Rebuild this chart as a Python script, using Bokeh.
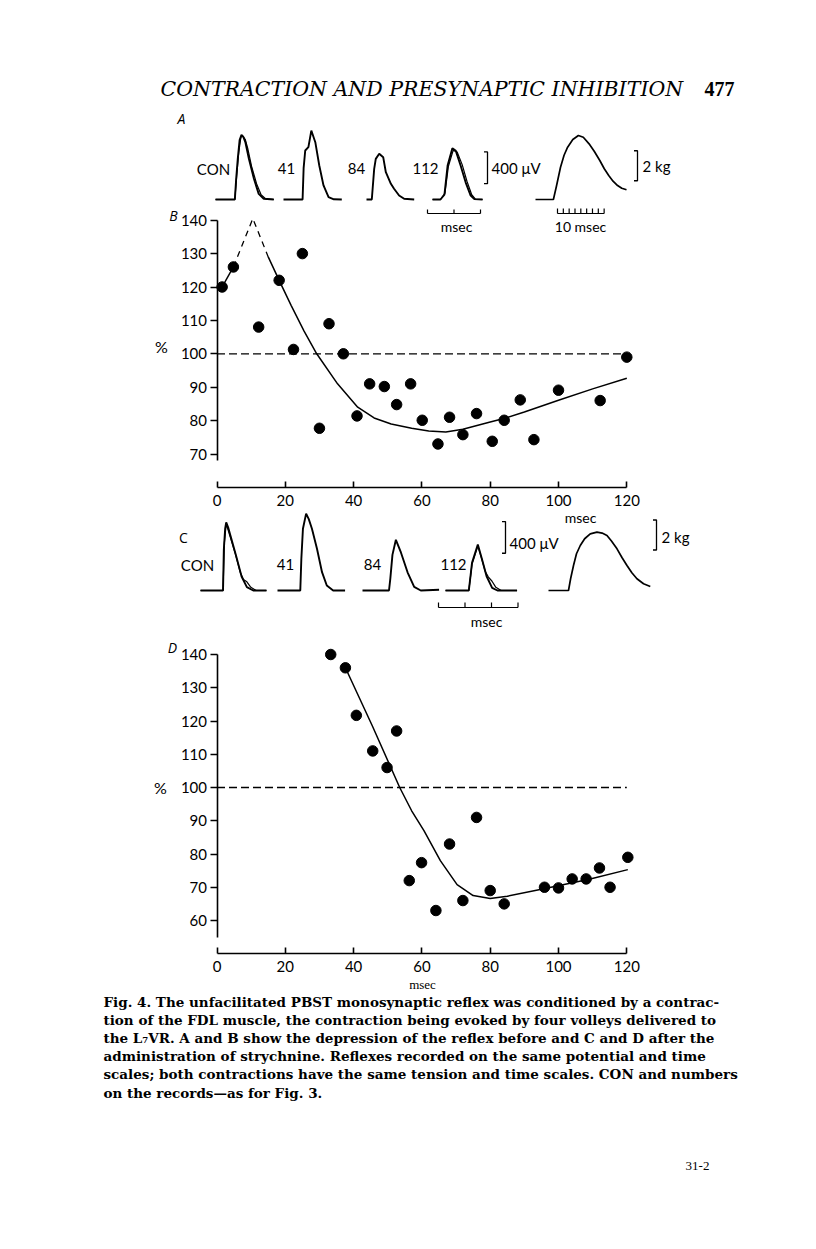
from bokeh.plotting import figure
from bokeh.models import Range1d, LinearAxis, FixedTicker, Label
from bokeh.embed import file_html
from bokeh.resources import INLINE

# ---------------- data ----------------
# Panel B: reflex size (% of control) vs interval (msec), before strychnine
B_x = [1.5, 4.8, 12.2, 18.2, 22.4, 25.0, 30.0, 32.8, 37.0, 41.0, 44.7, 49.0, 52.6,
       56.7, 60.1, 64.7, 68.1, 72.0, 76.0, 80.6, 84.1, 88.8, 92.8, 100.0, 112.2, 120.0]
B_y = [120, 126, 108, 122, 101.3, 130, 77.7, 109, 100, 81.4, 91, 90.2, 84.8,
       91, 80.1, 73, 81, 75.8, 82.1, 73.8, 80.1, 86.2, 74.3, 89.1, 86, 99]
B_fit0_x = [1.5, 4.8]
B_fit0_y = [120, 126]
B_peak_x = [4.8, 10.5, 15.0]
B_peak_y = [126, 140.5, 129]
B_fit_x = [15.0, 18.2, 21.7, 25.5, 29.2, 35.3, 41.2, 46, 51, 57, 62, 67, 72, 80, 84, 90, 100, 110, 120]
B_fit_y = [129, 122, 114.5, 106.8, 100, 91, 84, 80.8, 79, 77.7, 76.9, 76.6, 77.4, 79.6, 80.6, 82.6, 86.1, 89.5, 92.7]

# Panel D: after strychnine
D_x = [33.3, 37.6, 40.8, 45.6, 49.8, 52.6, 56.3, 59.9, 64.1, 68.1, 72.0, 76.0, 80.0,
       84.1, 95.9, 100.0, 104.0, 108.1, 112.0, 115.1, 120.3]
D_y = [140, 136, 121.7, 111, 106, 117, 72, 77.4, 63, 83, 66, 91, 69,
       65, 70, 69.8, 72.5, 72.5, 75.8, 70, 79]
D_fit_x = [37.6, 45.5, 53.5, 57, 60.6, 65.4, 70.3, 75, 80, 85, 95, 109, 120.3]
D_fit_y = [136, 118.5, 100, 93, 87, 78, 70.8, 67.5, 66.6, 67.3, 69.4, 72.4, 75.3]

X_TICKS = [0, 20, 40, 60, 80, 100, 120]
B_Y_TICKS = [70, 80, 90, 100, 110, 120, 130, 140]
D_Y_TICKS = [60, 70, 80, 90, 100, 110, 120, 130, 140]

# Reflex records (time msec from sweep start, amplitude microvolts)
A_CON_t = [0, 0.73, 0.78, 0.84, 0.91, 0.98, 1.05, 1.13, 1.26, 1.45, 1.63, 1.82, 2.2]
A_CON_v = [0, 0, 260, 514, 750, 816, 790, 720, 514, 262, 71, 9, 0]
A_CON2_t = [0, 0.73, 0.8, 0.88, 0.96, 1.03, 1.12, 1.22, 1.36, 1.55, 1.72, 1.9, 2.2]
A_CON2_v = [0, 0, 300, 600, 790, 800, 760, 640, 420, 200, 60, 8, 0]
A_41_t = [0, 0.72, 0.76, 0.82, 0.94, 1.05, 1.2, 1.35, 1.51, 1.7, 1.9, 2.2]
A_41_v = [0, 0, 400, 618, 660, 870, 723, 429, 177, 29, 3, 0]
A_84_t = [0, 0.2, 0.29, 0.35, 0.48, 0.63, 0.73, 0.92, 1.04, 1.23, 1.42, 1.8]
A_84_v = [0, 0, 387, 513, 577, 534, 344, 198, 135, 50, 9, 0]
A_112_t = [0, 0.3, 0.45, 0.57, 0.75, 0.88, 1.06, 1.25, 1.44, 1.58, 1.89]
A_112_v = [0, 0, 60, 429, 647, 614, 429, 217, 50, 5, 0]
A_1122_t = [0, 0.3, 0.47, 0.6, 0.78, 0.93, 1.12, 1.3, 1.48, 1.62, 1.89]
A_1122_v = [0, 0, 80, 420, 620, 600, 440, 230, 60, 6, 0]

C_CON_t = [0, 0.85, 0.88, 0.93, 0.97, 1.05, 1.14, 1.35, 1.55, 1.75, 1.99, 2.49]
C_CON_v = [0, 0, 514, 780, 860, 790, 681, 429, 177, 43, 0, 0]
C_CON2_t = [0, 0.85, 0.9, 0.97, 1.08, 1.3, 1.5, 1.62, 1.75, 1.9, 2.1, 2.49]
C_CON2_v = [0, 0, 600, 840, 720, 480, 230, 140, 110, 40, 0, 0]
C_41_t = [0, 0.86, 0.9, 0.96, 1.08, 1.18, 1.3, 1.49, 1.68, 1.86, 2.1, 2.55]
C_41_v = [0, 0, 400, 780, 970, 900, 780, 526, 231, 63, 0, 0]
C_84_t = [0, 1.0, 1.05, 1.13, 1.26, 1.45, 1.7, 1.95, 2.2, 2.89]
C_84_v = [0, 0, 150, 450, 640, 480, 230, 45, 0, 10]
C_112_t = [0, 0.88, 0.95, 1.0, 1.22, 1.38, 1.55, 1.76, 1.96, 2.7]
C_112_v = [0, 0, 200, 350, 580, 390, 180, 34, 0, 0]
C_1122_t = [0, 0.88, 1.0, 1.22, 1.35, 1.5, 1.62, 1.75, 1.9, 2.1, 2.7]
C_1122_v = [0, 0, 330, 560, 420, 240, 170, 120, 40, 0, 0]

# Contraction records (msec, kg)
CA_t = [0, 30.7, 36, 42.9, 49, 55.1, 64, 73.6, 82, 91.9, 101, 110.3, 118, 125.6, 133, 140.8, 148, 156.1]
CA_kg = [0, 0, 0.9, 2.15, 2.95, 3.49, 4.0, 4.27, 4.15, 3.71, 3.2, 2.6, 2.05, 1.6, 1.22, 0.93, 0.75, 0.65]
CC_t = [0, 34.3, 38, 42.9, 48, 54.5, 62, 71.6, 83.1, 92, 100.3, 108, 117.5, 126, 134.6, 143, 151.7, 163, 174.6]
CC_kg = [0, 0, 0.8, 1.67, 2.45, 3.0, 3.45, 3.78, 3.89, 3.83, 3.67, 3.3, 2.78, 2.2, 1.67, 1.18, 0.78, 0.45, 0.27]

CAPTION = [
    "Fig. 4. The unfacilitated PBST monosynaptic reflex was conditioned by a contrac-",
    "tion of the FDL muscle, the contraction being evoked by four volleys delivered to",
    "the L\u2087VR. A and B show the depression of the reflex before and C and D after the",
    "administration of strychnine. Reflexes recorded on the same potential and time",
    "scales; both contractions have the same tension and time scales. CON and numbers",
    "on the records\u2014as for Fig. 3.",
]

# ---------------- layout (page pixels) ----------------
W, H = 800, 1233
LEFT, TOP = 0, 0
PX_MS_B = 3.415        # px per msec of interval (B, D)
PX_PCT_B, PX_PCT_D = 3.34, 3.325
PX_MS_R = 26.5         # px per msec in reflex records
PX_UV = 0.07925        # px per microvolt
PX_MS_C = 0.583        # px per msec in contraction records
PX_KG = 15.0


def xr(anchor_px, anchor_val, ppu):
    return Range1d(anchor_val - (anchor_px - LEFT) / ppu, anchor_val + (LEFT + W - anchor_px) / ppu)


def yr(anchor_px, anchor_val, ppu):
    return Range1d(anchor_val - (TOP + H - anchor_px) / ppu, anchor_val + (anchor_px - TOP) / ppu)


p = figure(width=W, height=H, x_range=xr(216.5, 0, PX_MS_B), y_range=yr(353.3, 100, PX_PCT_B),
           output_backend="svg", toolbar_location=None, min_border=0,
           x_axis_type=None, y_axis_type=None)
p.grid.visible = False
p.outline_line_color = None
p.extra_y_ranges = {"D": yr(787, 100, PX_PCT_D), "uvA": yr(199, 0, PX_UV), "uvC": yr(590, 0, PX_UV),
                    "kgA": yr(199, 0, PX_KG), "kgC": yr(590, 0, PX_KG)}
p.extra_x_ranges = {"rt": xr(LEFT, 0, PX_MS_R), "ct": xr(LEFT, 0, PX_MS_C)}


def style_axis(ax, horizontal):
    ax.axis_line_width = 1.6
    ax.axis_line_color = "black"
    ax.major_tick_line_width = 1.6
    ax.major_tick_line_color = "black"
    ax.minor_tick_line_color = None
    ax.major_label_text_font = "Lato"
    ax.major_label_text_font_size = "15px"
    ax.major_label_text_color = "black"
    if horizontal:
        ax.major_tick_in = 6
        ax.major_tick_out = 0
        ax.major_label_standoff = 8
    else:
        ax.major_tick_in = 0
        ax.major_tick_out = 7
        ax.major_label_standoff = 3


yB = LinearAxis(fixed_location=0, bounds=(68.2, 140), ticker=FixedTicker(ticks=B_Y_TICKS))
xB = LinearAxis(fixed_location=60.06, bounds=(0, 120), ticker=FixedTicker(ticks=X_TICKS))
yD = LinearAxis(y_range_name="D", fixed_location=0, bounds=(55, 140), ticker=FixedTicker(ticks=D_Y_TICKS))
xD = LinearAxis(y_range_name="D", fixed_location=50.2, bounds=(0, 120), ticker=FixedTicker(ticks=X_TICKS))
for ax, hz in ((yB, False), (xB, True), (yD, False), (xD, True)):
    style_axis(ax, hz)
p.add_layout(yB, "left")
p.add_layout(yD, "left")
p.add_layout(xB, "below")
p.add_layout(xD, "below")

# ---- panel B ----
p.line([0, 120], [100, 100], line_color="black", line_width=1.3, line_dash="8 4")
p.line(B_fit0_x, B_fit0_y, line_color="black", line_width=1.5)
p.line(B_peak_x, B_peak_y, line_color="black", line_width=1.3, line_dash="6 5")
p.line(B_fit_x, B_fit_y, line_color="black", line_width=1.5)
p.scatter(B_x, B_y, size=10.5, color="black")

# ---- panel D ----
p.line([0, 120], [100, 100], line_color="black", line_width=1.3, line_dash="8 4", y_range_name="D")
p.line(D_fit_x, D_fit_y, line_color="black", line_width=1.5, y_range_name="D")
p.scatter(D_x, D_y, size=10.5, color="black", y_range_name="D")


# ---- records ----
def rec(t, v, start_px, yname, lw=1.9):
    off = (start_px - LEFT) / PX_MS_R
    p.line([off + a for a in t], v, line_color="black", line_width=lw, x_range_name="rt", y_range_name=yname)


def con(t, kg, start_px, yname):
    off = (start_px - LEFT) / PX_MS_C
    p.line([off + a for a in t], kg, line_color="black", line_width=1.7, x_range_name="ct", y_range_name=yname)


rec(A_CON_t, A_CON_v, 215, "uvA")
rec(A_CON2_t, A_CON2_v, 215, "uvA", 1.2)
rec(A_41_t, A_41_v, 283, "uvA")
rec(A_84_t, A_84_v, 366, "uvA")
rec(A_112_t, A_112_v, 432, "uvA")
rec(A_1122_t, A_1122_v, 432, "uvA", 1.2)
con(CA_t, CA_kg, 535, "kgA")

rec(C_CON_t, C_CON_v, 200, "uvC")
rec(C_CON2_t, C_CON2_v, 200, "uvC", 1.2)
rec(C_41_t, C_41_v, 277, "uvC")
rec(C_84_t, C_84_v, 362, "uvC")
rec(C_112_t, C_112_v, 445, "uvC")
rec(C_1122_t, C_1122_v, 445, "uvC", 1.2)
con(CC_t, CC_kg, 548, "kgC")


def bracket(x_px, lo, hi, xname, ppx, yname):
    x = (x_px - LEFT) / ppx
    s = 3.5 / ppx
    p.multi_line([[x - s, x, x, x - s]], [[lo, lo, hi, hi]], line_color="black", line_width=1.3,
                 x_range_name=xname, y_range_name=yname)


bracket(487, 200, 600, "rt", PX_MS_R, "uvA")      # 400 microvolt
bracket(637, 1.25, 3.25, "ct", PX_MS_C, "kgA")    # 2 kg
bracket(505, 470, 870, "rt", PX_MS_R, "uvC")
bracket(656, 2.7, 4.7, "ct", PX_MS_C, "kgC")


def timebar(x_px, n, y_px, base_px, ppx, ppy, step, xname, yname, tick_px):
    x0 = (x_px - LEFT) / ppx
    y0 = (base_px - y_px) / ppy
    xs = [[x0, x0 + n * step]]
    ys = [[y0, y0]]
    for i in range(n + 1):
        xs.append([x0 + i * step, x0 + i * step])
        ys.append([y0, y0 + tick_px / ppy])
    p.multi_line(xs, ys, line_color="black", line_width=1.2, x_range_name=xname, y_range_name=yname)


timebar(427, 2, 213, 199, PX_MS_R, PX_UV, 1.0, "rt", "uvA", 4)
timebar(557, 8, 213, 199, PX_MS_C, PX_KG, 10.0, "ct", "kgA", 5)
timebar(438, 3, 607, 590, PX_MS_R, PX_UV, 1.0, "rt", "uvC", 5)


# ---- texts ----
def lab(text, px, py, size=15, font="Lato", align="center", style="normal"):
    p.add_layout(Label(x=px - LEFT, y=TOP + H - py, x_units="screen", y_units="screen", text=text,
                       text_font=font, text_font_size=f"{size}px", text_align=align,
                       text_baseline="middle", text_font_style=style, text_color="black"))


lab("CONTRACTION AND PRESYNAPTIC INHIBITION", 160, 88, 20.5, "DejaVu Serif", "left", "italic")
lab("477", 704, 88, 20, "Liberation Serif", "left", "bold")

lab("A", 181, 118, 14, "Open Sans", "center", "italic")
lab("CON", 213, 168)
lab("41", 286, 168)
lab("84", 356, 168)
lab("112", 425, 168)
lab("400 \u03bcV", 491, 167, 15, "Lato", "left")
lab("2 kg", 642, 165, 15, "Lato", "left")
lab("msec", 456, 226, 14)
lab("10 msec", 580, 226, 14)

lab("B", 173, 215, 14, "Open Sans", "center", "italic")
lab("%", 161, 346, 16)
lab("msec", 580, 517, 14)

lab("C", 183, 537, 14, "Open Sans", "center")
lab("CON", 197, 564)
lab("41", 285, 564)
lab("84", 372, 564)
lab("112", 453, 564)
lab("400 \u03bcV", 509, 542, 15, "Lato", "left")
lab("2 kg", 661, 536, 15, "Lato", "left")
lab("msec", 486, 621, 14)

lab("D", 172, 647, 14, "Open Sans", "center", "italic")
lab("%", 160, 787, 16)
lab("msec", 422, 984, 13, "Liberation Serif")

for i, line in enumerate(CAPTION):
    lab(line, 103, 1001 + i * 18.2, 13.5, "DejaVu Serif", "left", "bold")
lab("31-2", 697, 1165, 13, "Liberation Serif")

open("out.html", "w").write(file_html(p, INLINE))
